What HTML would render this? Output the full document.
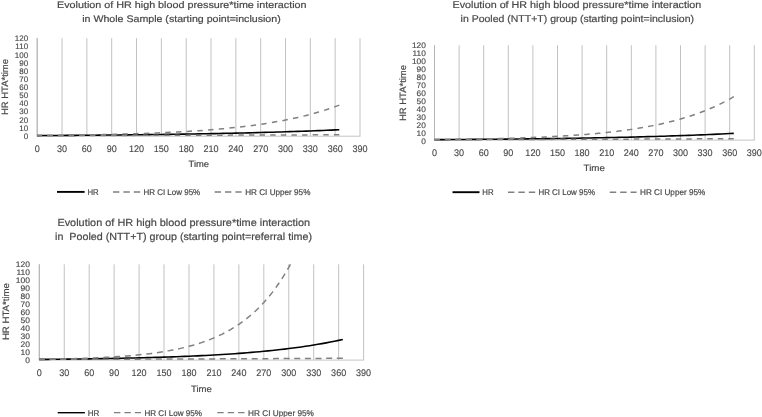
<!DOCTYPE html>
<html><head><meta charset="utf-8"><title>HR charts</title>
<style>
html,body{margin:0;padding:0;background:#fff;}
svg{display:block;font-family:'Liberation Sans', sans-serif;fill:#484848;text-rendering:geometricPrecision;}
text{stroke:#484848;stroke-width:0.2px;}
text.s{stroke-width:0.14px;}
</style></head>
<body>
<svg width="762" height="417" viewBox="0 0 762 417">
<rect width="762" height="417" fill="#fff"/>
<g opacity="0.999">
<line x1="37.20" y1="38.20" x2="37.20" y2="136.20" stroke="#c2c2c2" stroke-width="1"/>
<line x1="62.03" y1="38.20" x2="62.03" y2="136.20" stroke="#c2c2c2" stroke-width="1"/>
<line x1="86.86" y1="38.20" x2="86.86" y2="136.20" stroke="#c2c2c2" stroke-width="1"/>
<line x1="111.69" y1="38.20" x2="111.69" y2="136.20" stroke="#c2c2c2" stroke-width="1"/>
<line x1="136.52" y1="38.20" x2="136.52" y2="136.20" stroke="#c2c2c2" stroke-width="1"/>
<line x1="161.35" y1="38.20" x2="161.35" y2="136.20" stroke="#c2c2c2" stroke-width="1"/>
<line x1="186.18" y1="38.20" x2="186.18" y2="136.20" stroke="#c2c2c2" stroke-width="1"/>
<line x1="211.02" y1="38.20" x2="211.02" y2="136.20" stroke="#c2c2c2" stroke-width="1"/>
<line x1="235.85" y1="38.20" x2="235.85" y2="136.20" stroke="#c2c2c2" stroke-width="1"/>
<line x1="260.68" y1="38.20" x2="260.68" y2="136.20" stroke="#c2c2c2" stroke-width="1"/>
<line x1="285.51" y1="38.20" x2="285.51" y2="136.20" stroke="#c2c2c2" stroke-width="1"/>
<line x1="310.34" y1="38.20" x2="310.34" y2="136.20" stroke="#c2c2c2" stroke-width="1"/>
<line x1="335.17" y1="38.20" x2="335.17" y2="136.20" stroke="#c2c2c2" stroke-width="1"/>
<line x1="360.00" y1="38.20" x2="360.00" y2="136.20" stroke="#c2c2c2" stroke-width="1"/>
<line x1="37.20" y1="38.20" x2="37.20" y2="136.20" stroke="#b4b4b4" stroke-width="1"/>
<line x1="36.70" y1="136.20" x2="360.50" y2="136.20" stroke="#c4c4c4" stroke-width="1"/>
<text transform="translate(28.1,139) scale(1.0,1)" font-size="8" text-anchor="end" class="s">0</text>
<text transform="translate(28.1,131) scale(1.0,1)" font-size="8" text-anchor="end" class="s">10</text>
<text transform="translate(28.1,123) scale(1.0,1)" font-size="8" text-anchor="end" class="s">20</text>
<text transform="translate(28.1,114) scale(1.0,1)" font-size="8" text-anchor="end" class="s">30</text>
<text transform="translate(28.1,106) scale(1.0,1)" font-size="8" text-anchor="end" class="s">40</text>
<text transform="translate(28.1,98) scale(1.0,1)" font-size="8" text-anchor="end" class="s">50</text>
<text transform="translate(28.1,90) scale(1.0,1)" font-size="8" text-anchor="end" class="s">60</text>
<text transform="translate(28.1,82) scale(1.0,1)" font-size="8" text-anchor="end" class="s">70</text>
<text transform="translate(28.1,74) scale(1.0,1)" font-size="8" text-anchor="end" class="s">80</text>
<text transform="translate(28.1,66) scale(1.0,1)" font-size="8" text-anchor="end" class="s">90</text>
<text transform="translate(28.1,58) scale(1.0,1)" font-size="8" text-anchor="end" class="s">100</text>
<text transform="translate(28.1,49) scale(1.0,1)" font-size="8" text-anchor="end" class="s">110</text>
<text transform="translate(28.1,41) scale(1.0,1)" font-size="8" text-anchor="end" class="s">120</text>
<text transform="translate(37.20,152) scale(0.95,1)" font-size="9.5" text-anchor="middle" class="s">0</text>
<text transform="translate(62.03,152) scale(0.95,1)" font-size="9.5" text-anchor="middle" class="s">30</text>
<text transform="translate(86.86,152) scale(0.95,1)" font-size="9.5" text-anchor="middle" class="s">60</text>
<text transform="translate(111.69,152) scale(0.95,1)" font-size="9.5" text-anchor="middle" class="s">90</text>
<text transform="translate(136.52,152) scale(0.95,1)" font-size="9.5" text-anchor="middle" class="s">120</text>
<text transform="translate(161.35,152) scale(0.95,1)" font-size="9.5" text-anchor="middle" class="s">150</text>
<text transform="translate(186.18,152) scale(0.95,1)" font-size="9.5" text-anchor="middle" class="s">180</text>
<text transform="translate(211.02,152) scale(0.95,1)" font-size="9.5" text-anchor="middle" class="s">210</text>
<text transform="translate(235.85,152) scale(0.95,1)" font-size="9.5" text-anchor="middle" class="s">240</text>
<text transform="translate(260.68,152) scale(0.95,1)" font-size="9.5" text-anchor="middle" class="s">270</text>
<text transform="translate(285.51,152) scale(0.95,1)" font-size="9.5" text-anchor="middle" class="s">300</text>
<text transform="translate(310.34,152) scale(0.95,1)" font-size="9.5" text-anchor="middle" class="s">330</text>
<text transform="translate(335.17,152) scale(0.95,1)" font-size="9.5" text-anchor="middle" class="s">360</text>
<text transform="translate(360.00,152) scale(0.95,1)" font-size="9.5" text-anchor="middle" class="s">390</text>
<path d="M37.20,135.58 L41.34,135.56 L45.48,135.53 L49.62,135.51 L53.75,135.48 L57.89,135.46 L62.03,135.43 L66.17,135.40 L70.31,135.37 L74.45,135.34 L78.58,135.31 L82.72,135.28 L86.86,135.25 L91.00,135.21 L95.14,135.18 L99.28,135.14 L103.42,135.10 L107.55,135.07 L111.69,135.03 L115.83,134.99 L119.97,134.95 L124.11,134.90 L128.25,134.86 L132.38,134.82 L136.52,134.77 L140.66,134.72 L144.80,134.67 L148.94,134.62 L153.08,134.57 L157.22,134.52 L161.35,134.46 L165.49,134.40 L169.63,134.35 L173.77,134.29 L177.91,134.22 L182.05,134.16 L186.18,134.09 L190.32,134.03 L194.46,133.96 L198.60,133.89 L202.74,133.81 L206.88,133.74 L211.02,133.66 L215.15,133.58 L219.29,133.50 L223.43,133.41 L227.57,133.32 L231.71,133.23 L235.85,133.14 L239.98,133.05 L244.12,132.95 L248.26,132.85 L252.40,132.74 L256.54,132.64 L260.68,132.53 L264.82,132.41 L268.95,132.30 L273.09,132.18 L277.23,132.05 L281.37,131.93 L285.51,131.80 L289.65,131.66 L293.78,131.52 L297.92,131.38 L302.06,131.23 L306.20,131.08 L310.34,130.93 L314.48,130.77 L318.62,130.60 L322.75,130.43 L326.89,130.26 L331.03,130.08 L335.17,129.89 L339.31,129.70" fill="none" stroke="#000" stroke-width="1.6" stroke-linejoin="round"/>
<path d="M37.20,135.58 L41.34,135.58 L45.48,135.57 L49.62,135.56 L53.75,135.55 L57.89,135.54 L62.03,135.54 L66.17,135.53 L70.31,135.52 L74.45,135.51 L78.58,135.50 L82.72,135.49 L86.86,135.48 L91.00,135.48 L95.14,135.47 L99.28,135.46 L103.42,135.45 L107.55,135.44 L111.69,135.43 L115.83,135.42 L119.97,135.41 L124.11,135.40 L128.25,135.39 L132.38,135.38 L136.52,135.37 L140.66,135.36 L144.80,135.35 L148.94,135.34 L153.08,135.33 L157.22,135.32 L161.35,135.31 L165.49,135.30 L169.63,135.29 L173.77,135.28 L177.91,135.27 L182.05,135.26 L186.18,135.25 L190.32,135.24 L194.46,135.23 L198.60,135.22 L202.74,135.21 L206.88,135.19 L211.02,135.18 L215.15,135.17 L219.29,135.16 L223.43,135.15 L227.57,135.14 L231.71,135.12 L235.85,135.11 L239.98,135.10 L244.12,135.09 L248.26,135.07 L252.40,135.06 L256.54,135.05 L260.68,135.04 L264.82,135.02 L268.95,135.01 L273.09,135.00 L277.23,134.98 L281.37,134.97 L285.51,134.96 L289.65,134.94 L293.78,134.93 L297.92,134.91 L302.06,134.90 L306.20,134.89 L310.34,134.87 L314.48,134.86 L318.62,134.84 L322.75,134.83 L326.89,134.81 L331.03,134.80 L335.17,134.78 L339.31,134.77" fill="none" stroke="#808080" stroke-width="1.5" stroke-dasharray="5.40 5.215" stroke-dashoffset="0.5" stroke-linejoin="round"/>
<path d="M37.20,135.58 L41.34,135.54 L45.48,135.50 L49.62,135.45 L53.75,135.40 L57.89,135.35 L62.03,135.30 L66.17,135.24 L70.31,135.18 L74.45,135.12 L78.58,135.05 L82.72,134.99 L86.86,134.91 L91.00,134.84 L95.14,134.76 L99.28,134.67 L103.42,134.58 L107.55,134.49 L111.69,134.39 L115.83,134.29 L119.97,134.18 L124.11,134.07 L128.25,133.95 L132.38,133.82 L136.52,133.69 L140.66,133.55 L144.80,133.41 L148.94,133.26 L153.08,133.09 L157.22,132.92 L161.35,132.75 L165.49,132.56 L169.63,132.36 L173.77,132.16 L177.91,131.94 L182.05,131.71 L186.18,131.47 L190.32,131.22 L194.46,130.95 L198.60,130.67 L202.74,130.38 L206.88,130.07 L211.02,129.75 L215.15,129.41 L219.29,129.05 L223.43,128.67 L227.57,128.28 L231.71,127.86 L235.85,127.42 L239.98,126.97 L244.12,126.48 L248.26,125.97 L252.40,125.44 L256.54,124.88 L260.68,124.29 L264.82,123.67 L268.95,123.02 L273.09,122.33 L277.23,121.61 L281.37,120.85 L285.51,120.06 L289.65,119.22 L293.78,118.34 L297.92,117.42 L302.06,116.44 L306.20,115.42 L310.34,114.35 L314.48,113.22 L318.62,112.03 L322.75,110.79 L326.89,109.47 L331.03,108.09 L335.17,106.65 L339.31,105.12" fill="none" stroke="#808080" stroke-width="1.5" stroke-dasharray="5.40 5.318" stroke-dashoffset="0.5" stroke-linejoin="round"/>
<text x="57.00" y="8.00" font-size="9.5" text-anchor="start" textLength="249.50" lengthAdjust="spacingAndGlyphs" xml:space="preserve">Evolution of HR high blood pressure*time interaction</text>
<text x="82.20" y="22.00" font-size="9.5" text-anchor="start" textLength="198.50" lengthAdjust="spacingAndGlyphs" xml:space="preserve">in Whole Sample (starting point=inclusion)</text>
<text x="188.60" y="167" font-size="9" text-anchor="start" textLength="20.50" lengthAdjust="spacingAndGlyphs">Time</text>
<text transform="translate(8.30,87.00) rotate(-90)" font-size="9.2" text-anchor="middle" textLength="56" lengthAdjust="spacingAndGlyphs">HR HTA*time</text>
<line x1="57" y1="191.9" x2="84.6" y2="191.9" stroke="#000" stroke-width="1.9"/>
<text x="87.4" y="195" font-size="8.4" text-anchor="start" textLength="11.20" lengthAdjust="spacingAndGlyphs">HR</text>
<line x1="113" y1="191.9" x2="140.4" y2="191.9" stroke="#808080" stroke-width="1.55" stroke-dasharray="6.4 4"/>
<text x="143.4" y="195" font-size="8.4" text-anchor="start" textLength="56.80" lengthAdjust="spacingAndGlyphs">HR CI Low 95%</text>
<line x1="214.6" y1="191.9" x2="241.6" y2="191.9" stroke="#808080" stroke-width="1.55" stroke-dasharray="6.4 4"/>
<text x="245.2" y="195" font-size="8.4" text-anchor="start" textLength="65.20" lengthAdjust="spacingAndGlyphs">HR CI Upper 95%</text>
<line x1="434.50" y1="45.20" x2="434.50" y2="140.10" stroke="#c2c2c2" stroke-width="1"/>
<line x1="459.10" y1="45.20" x2="459.10" y2="140.10" stroke="#c2c2c2" stroke-width="1"/>
<line x1="483.70" y1="45.20" x2="483.70" y2="140.10" stroke="#c2c2c2" stroke-width="1"/>
<line x1="508.30" y1="45.20" x2="508.30" y2="140.10" stroke="#c2c2c2" stroke-width="1"/>
<line x1="532.90" y1="45.20" x2="532.90" y2="140.10" stroke="#c2c2c2" stroke-width="1"/>
<line x1="557.50" y1="45.20" x2="557.50" y2="140.10" stroke="#c2c2c2" stroke-width="1"/>
<line x1="582.10" y1="45.20" x2="582.10" y2="140.10" stroke="#c2c2c2" stroke-width="1"/>
<line x1="606.70" y1="45.20" x2="606.70" y2="140.10" stroke="#c2c2c2" stroke-width="1"/>
<line x1="631.30" y1="45.20" x2="631.30" y2="140.10" stroke="#c2c2c2" stroke-width="1"/>
<line x1="655.90" y1="45.20" x2="655.90" y2="140.10" stroke="#c2c2c2" stroke-width="1"/>
<line x1="680.50" y1="45.20" x2="680.50" y2="140.10" stroke="#c2c2c2" stroke-width="1"/>
<line x1="705.10" y1="45.20" x2="705.10" y2="140.10" stroke="#c2c2c2" stroke-width="1"/>
<line x1="729.70" y1="45.20" x2="729.70" y2="140.10" stroke="#c2c2c2" stroke-width="1"/>
<line x1="754.30" y1="45.20" x2="754.30" y2="140.10" stroke="#c2c2c2" stroke-width="1"/>
<line x1="434.50" y1="45.20" x2="434.50" y2="140.10" stroke="#b4b4b4" stroke-width="1"/>
<line x1="434.00" y1="140.10" x2="754.80" y2="140.10" stroke="#c4c4c4" stroke-width="1"/>
<text transform="translate(425.8,144) scale(1.04,1)" font-size="8" text-anchor="end" class="s">0</text>
<text transform="translate(425.8,136) scale(1.04,1)" font-size="8" text-anchor="end" class="s">10</text>
<text transform="translate(425.8,128) scale(1.04,1)" font-size="8" text-anchor="end" class="s">20</text>
<text transform="translate(425.8,120) scale(1.04,1)" font-size="8" text-anchor="end" class="s">30</text>
<text transform="translate(425.8,112) scale(1.04,1)" font-size="8" text-anchor="end" class="s">40</text>
<text transform="translate(425.8,104) scale(1.04,1)" font-size="8" text-anchor="end" class="s">50</text>
<text transform="translate(425.8,96) scale(1.04,1)" font-size="8" text-anchor="end" class="s">60</text>
<text transform="translate(425.8,88) scale(1.04,1)" font-size="8" text-anchor="end" class="s">70</text>
<text transform="translate(425.8,80) scale(1.04,1)" font-size="8" text-anchor="end" class="s">80</text>
<text transform="translate(425.8,72) scale(1.04,1)" font-size="8" text-anchor="end" class="s">90</text>
<text transform="translate(425.8,64) scale(1.04,1)" font-size="8" text-anchor="end" class="s">100</text>
<text transform="translate(425.8,56) scale(1.04,1)" font-size="8" text-anchor="end" class="s">110</text>
<text transform="translate(425.8,48) scale(1.04,1)" font-size="8" text-anchor="end" class="s">120</text>
<text transform="translate(434.50,156) scale(0.95,1)" font-size="9.5" text-anchor="middle" class="s">0</text>
<text transform="translate(459.10,156) scale(0.95,1)" font-size="9.5" text-anchor="middle" class="s">30</text>
<text transform="translate(483.70,156) scale(0.95,1)" font-size="9.5" text-anchor="middle" class="s">60</text>
<text transform="translate(508.30,156) scale(0.95,1)" font-size="9.5" text-anchor="middle" class="s">90</text>
<text transform="translate(532.90,156) scale(0.95,1)" font-size="9.5" text-anchor="middle" class="s">120</text>
<text transform="translate(557.50,156) scale(0.95,1)" font-size="9.5" text-anchor="middle" class="s">150</text>
<text transform="translate(582.10,156) scale(0.95,1)" font-size="9.5" text-anchor="middle" class="s">180</text>
<text transform="translate(606.70,156) scale(0.95,1)" font-size="9.5" text-anchor="middle" class="s">210</text>
<text transform="translate(631.30,156) scale(0.95,1)" font-size="9.5" text-anchor="middle" class="s">240</text>
<text transform="translate(655.90,156) scale(0.95,1)" font-size="9.5" text-anchor="middle" class="s">270</text>
<text transform="translate(680.50,156) scale(0.95,1)" font-size="9.5" text-anchor="middle" class="s">300</text>
<text transform="translate(705.10,156) scale(0.95,1)" font-size="9.5" text-anchor="middle" class="s">330</text>
<text transform="translate(729.70,156) scale(0.95,1)" font-size="9.5" text-anchor="middle" class="s">360</text>
<text transform="translate(754.30,156) scale(0.95,1)" font-size="9.5" text-anchor="middle" class="s">390</text>
<path d="M434.50,139.66 L438.60,139.64 L442.70,139.61 L446.80,139.58 L450.90,139.56 L455.00,139.53 L459.10,139.50 L463.20,139.47 L467.30,139.44 L471.40,139.41 L475.50,139.38 L479.60,139.35 L483.70,139.32 L487.80,139.28 L491.90,139.24 L496.00,139.21 L500.10,139.17 L504.20,139.13 L508.30,139.09 L512.40,139.05 L516.50,139.01 L520.60,138.96 L524.70,138.92 L528.80,138.87 L532.90,138.82 L537.00,138.77 L541.10,138.72 L545.20,138.67 L549.30,138.61 L553.40,138.56 L557.50,138.50 L561.60,138.44 L565.70,138.38 L569.80,138.31 L573.90,138.25 L578.00,138.18 L582.10,138.11 L586.20,138.04 L590.30,137.97 L594.40,137.89 L598.50,137.81 L602.60,137.73 L606.70,137.65 L610.80,137.56 L614.90,137.48 L619.00,137.39 L623.10,137.29 L627.20,137.20 L631.30,137.10 L635.40,136.99 L639.50,136.89 L643.60,136.78 L647.70,136.67 L651.80,136.55 L655.90,136.43 L660.00,136.31 L664.10,136.18 L668.20,136.05 L672.30,135.92 L676.40,135.78 L680.50,135.64 L684.60,135.49 L688.70,135.34 L692.80,135.18 L696.90,135.02 L701.00,134.86 L705.10,134.68 L709.20,134.51 L713.30,134.33 L717.40,134.14 L721.50,133.95 L725.60,133.75 L729.70,133.54 L733.80,133.33" fill="none" stroke="#000" stroke-width="1.6" stroke-linejoin="round"/>
<path d="M434.50,139.66 L438.60,139.65 L442.70,139.64 L446.80,139.63 L450.90,139.62 L455.00,139.62 L459.10,139.61 L463.20,139.60 L467.30,139.59 L471.40,139.58 L475.50,139.57 L479.60,139.56 L483.70,139.55 L487.80,139.54 L491.90,139.53 L496.00,139.52 L500.10,139.51 L504.20,139.50 L508.30,139.49 L512.40,139.48 L516.50,139.47 L520.60,139.46 L524.70,139.45 L528.80,139.44 L532.90,139.43 L537.00,139.41 L541.10,139.40 L545.20,139.39 L549.30,139.38 L553.40,139.37 L557.50,139.36 L561.60,139.34 L565.70,139.33 L569.80,139.32 L573.90,139.31 L578.00,139.30 L582.10,139.28 L586.20,139.27 L590.30,139.26 L594.40,139.24 L598.50,139.23 L602.60,139.22 L606.70,139.21 L610.80,139.19 L614.90,139.18 L619.00,139.16 L623.10,139.15 L627.20,139.14 L631.30,139.12 L635.40,139.11 L639.50,139.09 L643.60,139.08 L647.70,139.06 L651.80,139.05 L655.90,139.03 L660.00,139.02 L664.10,139.00 L668.20,138.99 L672.30,138.97 L676.40,138.95 L680.50,138.94 L684.60,138.92 L688.70,138.91 L692.80,138.89 L696.90,138.87 L701.00,138.85 L705.10,138.84 L709.20,138.82 L713.30,138.80 L717.40,138.78 L721.50,138.77 L725.60,138.75 L729.70,138.73 L733.80,138.71" fill="none" stroke="#808080" stroke-width="1.5" stroke-dasharray="5.50 5.000" stroke-dashoffset="0.2" stroke-linejoin="round"/>
<path d="M434.50,139.66 L438.60,139.61 L442.70,139.57 L446.80,139.52 L450.90,139.46 L455.00,139.41 L459.10,139.35 L463.20,139.29 L467.30,139.22 L471.40,139.15 L475.50,139.08 L479.60,139.00 L483.70,138.92 L487.80,138.83 L491.90,138.74 L496.00,138.65 L500.10,138.54 L504.20,138.44 L508.30,138.32 L512.40,138.20 L516.50,138.08 L520.60,137.94 L524.70,137.80 L528.80,137.65 L532.90,137.49 L537.00,137.32 L541.10,137.15 L545.20,136.96 L549.30,136.76 L553.40,136.56 L557.50,136.34 L561.60,136.10 L565.70,135.86 L569.80,135.60 L573.90,135.32 L578.00,135.03 L582.10,134.73 L586.20,134.41 L590.30,134.06 L594.40,133.70 L598.50,133.32 L602.60,132.92 L606.70,132.49 L610.80,132.04 L614.90,131.57 L619.00,131.07 L623.10,130.54 L627.20,129.98 L631.30,129.38 L635.40,128.76 L639.50,128.10 L643.60,127.40 L647.70,126.66 L651.80,125.88 L655.90,125.06 L660.00,124.19 L664.10,123.27 L668.20,122.30 L672.30,121.28 L676.40,120.19 L680.50,119.05 L684.60,117.84 L688.70,116.56 L692.80,115.21 L696.90,113.78 L701.00,112.28 L705.10,110.69 L709.20,109.00 L713.30,107.23 L717.40,105.35 L721.50,103.37 L725.60,101.27 L729.70,99.06 L733.80,96.72" fill="none" stroke="#808080" stroke-width="1.5" stroke-dasharray="5.50 5.220" stroke-dashoffset="0.2" stroke-linejoin="round"/>
<text x="452.50" y="8.00" font-size="9.8" text-anchor="start" textLength="248.80" lengthAdjust="spacingAndGlyphs" xml:space="preserve">Evolution of HR high blood pressure*time interaction</text>
<text x="460.60" y="22.00" font-size="9.8" text-anchor="start" textLength="233.40" lengthAdjust="spacingAndGlyphs" xml:space="preserve">in Pooled (NTT+T) group (starting point=inclusion)</text>
<text x="583.60" y="171" font-size="9" text-anchor="start" textLength="21.30" lengthAdjust="spacingAndGlyphs">Time</text>
<text transform="translate(405.60,93.00) rotate(-90)" font-size="9.2" text-anchor="middle" textLength="56" lengthAdjust="spacingAndGlyphs">HR HTA*time</text>
<line x1="452.5" y1="192.2" x2="479.5" y2="192.2" stroke="#000" stroke-width="1.9"/>
<text x="482.3" y="195" font-size="8.4" text-anchor="start" textLength="11.30" lengthAdjust="spacingAndGlyphs">HR</text>
<line x1="508" y1="192.2" x2="535.2" y2="192.2" stroke="#808080" stroke-width="1.55" stroke-dasharray="6.4 4"/>
<text x="538.4" y="195" font-size="8.4" text-anchor="start" textLength="56.60" lengthAdjust="spacingAndGlyphs">HR CI Low 95%</text>
<line x1="609.8" y1="192.2" x2="636.6" y2="192.2" stroke="#808080" stroke-width="1.55" stroke-dasharray="6.4 4"/>
<text x="640.0" y="195" font-size="8.4" text-anchor="start" textLength="65.30" lengthAdjust="spacingAndGlyphs">HR CI Upper 95%</text>
<line x1="39.30" y1="264.30" x2="39.30" y2="360.10" stroke="#c2c2c2" stroke-width="1"/>
<line x1="64.25" y1="264.30" x2="64.25" y2="360.10" stroke="#c2c2c2" stroke-width="1"/>
<line x1="89.19" y1="264.30" x2="89.19" y2="360.10" stroke="#c2c2c2" stroke-width="1"/>
<line x1="114.14" y1="264.30" x2="114.14" y2="360.10" stroke="#c2c2c2" stroke-width="1"/>
<line x1="139.08" y1="264.30" x2="139.08" y2="360.10" stroke="#c2c2c2" stroke-width="1"/>
<line x1="164.03" y1="264.30" x2="164.03" y2="360.10" stroke="#c2c2c2" stroke-width="1"/>
<line x1="188.98" y1="264.30" x2="188.98" y2="360.10" stroke="#c2c2c2" stroke-width="1"/>
<line x1="213.92" y1="264.30" x2="213.92" y2="360.10" stroke="#c2c2c2" stroke-width="1"/>
<line x1="238.87" y1="264.30" x2="238.87" y2="360.10" stroke="#c2c2c2" stroke-width="1"/>
<line x1="263.82" y1="264.30" x2="263.82" y2="360.10" stroke="#c2c2c2" stroke-width="1"/>
<line x1="288.76" y1="264.30" x2="288.76" y2="360.10" stroke="#c2c2c2" stroke-width="1"/>
<line x1="313.71" y1="264.30" x2="313.71" y2="360.10" stroke="#c2c2c2" stroke-width="1"/>
<line x1="338.65" y1="264.30" x2="338.65" y2="360.10" stroke="#c2c2c2" stroke-width="1"/>
<line x1="363.60" y1="264.30" x2="363.60" y2="360.10" stroke="#c2c2c2" stroke-width="1"/>
<line x1="39.30" y1="264.30" x2="39.30" y2="360.10" stroke="#b4b4b4" stroke-width="1"/>
<line x1="38.80" y1="360.10" x2="364.10" y2="360.10" stroke="#c4c4c4" stroke-width="1"/>
<text transform="translate(30.0,363) scale(1.06,1)" font-size="8" text-anchor="end" class="s">0</text>
<text transform="translate(30.0,355) scale(1.06,1)" font-size="8" text-anchor="end" class="s">10</text>
<text transform="translate(30.0,347) scale(1.06,1)" font-size="8" text-anchor="end" class="s">20</text>
<text transform="translate(30.0,339) scale(1.06,1)" font-size="8" text-anchor="end" class="s">30</text>
<text transform="translate(30.0,331) scale(1.06,1)" font-size="8" text-anchor="end" class="s">40</text>
<text transform="translate(30.0,323) scale(1.06,1)" font-size="8" text-anchor="end" class="s">50</text>
<text transform="translate(30.0,315) scale(1.06,1)" font-size="8" text-anchor="end" class="s">60</text>
<text transform="translate(30.0,307) scale(1.06,1)" font-size="8" text-anchor="end" class="s">70</text>
<text transform="translate(30.0,299) scale(1.06,1)" font-size="8" text-anchor="end" class="s">80</text>
<text transform="translate(30.0,291) scale(1.06,1)" font-size="8" text-anchor="end" class="s">90</text>
<text transform="translate(30.0,283) scale(1.06,1)" font-size="8" text-anchor="end" class="s">100</text>
<text transform="translate(30.0,275) scale(1.06,1)" font-size="8" text-anchor="end" class="s">110</text>
<text transform="translate(30.0,267) scale(1.06,1)" font-size="8" text-anchor="end" class="s">120</text>
<text transform="translate(39.30,376) scale(0.95,1)" font-size="9.5" text-anchor="middle" class="s">0</text>
<text transform="translate(64.25,376) scale(0.95,1)" font-size="9.5" text-anchor="middle" class="s">30</text>
<text transform="translate(89.19,376) scale(0.95,1)" font-size="9.5" text-anchor="middle" class="s">60</text>
<text transform="translate(114.14,376) scale(0.95,1)" font-size="9.5" text-anchor="middle" class="s">90</text>
<text transform="translate(139.08,376) scale(0.95,1)" font-size="9.5" text-anchor="middle" class="s">120</text>
<text transform="translate(164.03,376) scale(0.95,1)" font-size="9.5" text-anchor="middle" class="s">150</text>
<text transform="translate(188.98,376) scale(0.95,1)" font-size="9.5" text-anchor="middle" class="s">180</text>
<text transform="translate(213.92,376) scale(0.95,1)" font-size="9.5" text-anchor="middle" class="s">210</text>
<text transform="translate(238.87,376) scale(0.95,1)" font-size="9.5" text-anchor="middle" class="s">240</text>
<text transform="translate(263.82,376) scale(0.95,1)" font-size="9.5" text-anchor="middle" class="s">270</text>
<text transform="translate(288.76,376) scale(0.95,1)" font-size="9.5" text-anchor="middle" class="s">300</text>
<text transform="translate(313.71,376) scale(0.95,1)" font-size="9.5" text-anchor="middle" class="s">330</text>
<text transform="translate(338.65,376) scale(0.95,1)" font-size="9.5" text-anchor="middle" class="s">360</text>
<text transform="translate(363.60,376) scale(0.95,1)" font-size="9.5" text-anchor="middle" class="s">390</text>
<path d="M39.30,359.40 L43.46,359.37 L47.62,359.33 L51.77,359.29 L55.93,359.25 L60.09,359.20 L64.25,359.16 L68.40,359.11 L72.56,359.06 L76.72,359.01 L80.88,358.95 L85.03,358.90 L89.19,358.84 L93.35,358.77 L97.51,358.71 L101.67,358.64 L105.82,358.57 L109.98,358.50 L114.14,358.42 L118.30,358.34 L122.45,358.25 L126.61,358.16 L130.77,358.07 L134.93,357.97 L139.08,357.87 L143.24,357.76 L147.40,357.65 L151.56,357.54 L155.72,357.41 L159.87,357.29 L164.03,357.15 L168.19,357.02 L172.35,356.87 L176.50,356.72 L180.66,356.56 L184.82,356.39 L188.98,356.22 L193.13,356.04 L197.29,355.85 L201.45,355.65 L205.61,355.44 L209.77,355.22 L213.92,355.00 L218.08,354.76 L222.24,354.51 L226.40,354.25 L230.55,353.98 L234.71,353.70 L238.87,353.40 L243.03,353.09 L247.18,352.76 L251.34,352.42 L255.50,352.07 L259.66,351.70 L263.82,351.31 L267.97,350.90 L272.13,350.48 L276.29,350.04 L280.45,349.57 L284.60,349.09 L288.76,348.58 L292.92,348.05 L297.08,347.50 L301.23,346.92 L305.39,346.31 L309.55,345.68 L313.71,345.01 L317.87,344.32 L322.02,343.59 L326.18,342.84 L330.34,342.04 L334.50,341.22 L338.65,340.35 L342.81,339.44" fill="none" stroke="#000" stroke-width="1.6" stroke-linejoin="round"/>
<path d="M39.30,359.40 L43.46,359.39 L47.62,359.38 L51.77,359.37 L55.93,359.36 L60.09,359.35 L64.25,359.34 L68.40,359.33 L72.56,359.32 L76.72,359.31 L80.88,359.30 L85.03,359.29 L89.19,359.28 L93.35,359.27 L97.51,359.26 L101.67,359.24 L105.82,359.23 L109.98,359.22 L114.14,359.21 L118.30,359.20 L122.45,359.19 L126.61,359.17 L130.77,359.16 L134.93,359.15 L139.08,359.14 L143.24,359.12 L147.40,359.11 L151.56,359.10 L155.72,359.08 L159.87,359.07 L164.03,359.06 L168.19,359.04 L172.35,359.03 L176.50,359.01 L180.66,359.00 L184.82,358.99 L188.98,358.97 L193.13,358.96 L197.29,358.94 L201.45,358.93 L205.61,358.91 L209.77,358.89 L213.92,358.88 L218.08,358.86 L222.24,358.85 L226.40,358.83 L230.55,358.81 L234.71,358.80 L238.87,358.78 L243.03,358.76 L247.18,358.75 L251.34,358.73 L255.50,358.71 L259.66,358.69 L263.82,358.67 L267.97,358.66 L272.13,358.64 L276.29,358.62 L280.45,358.60 L284.60,358.58 L288.76,358.56 L292.92,358.54 L297.08,358.52 L301.23,358.50 L305.39,358.48 L309.55,358.46 L313.71,358.44 L317.87,358.42 L322.02,358.40 L326.18,358.37 L330.34,358.35 L334.50,358.33 L338.65,358.31 L342.81,358.28" fill="none" stroke="#808080" stroke-width="1.5" stroke-dasharray="6.00 4.640" stroke-dashoffset="0.4" stroke-linejoin="round"/>
<path d="M39.30,359.40 L43.46,359.34 L47.62,359.26 L51.77,359.19 L55.93,359.10 L60.09,359.01 L64.25,358.92 L68.40,358.81 L72.56,358.69 L76.72,358.57 L80.88,358.44 L85.03,358.29 L89.19,358.13 L93.35,357.96 L97.51,357.78 L101.67,357.58 L105.82,357.36 L109.98,357.13 L114.14,356.87 L118.30,356.60 L122.45,356.30 L126.61,355.98 L130.77,355.63 L134.93,355.26 L139.08,354.85 L143.24,354.41 L147.40,353.93 L151.56,353.41 L155.72,352.85 L159.87,352.25 L164.03,351.59 L168.19,350.88 L172.35,350.11 L176.50,349.28 L180.66,348.38 L184.82,347.41 L188.98,346.35 L193.13,345.21 L197.29,343.97 L201.45,342.63 L205.61,341.18 L209.77,339.62 L213.92,337.92 L218.08,336.08 L222.24,334.09 L226.40,331.94 L230.55,329.60 L234.71,327.08 L238.87,324.35 L243.03,321.39 L247.18,318.19 L251.34,314.72 L255.50,310.97 L259.66,306.91 L263.82,302.52 L267.97,297.76 L272.13,292.61 L276.29,287.03 L280.45,281.00 L284.60,274.46 L288.76,267.39 L290.42,264.40" fill="none" stroke="#808080" stroke-width="1.5" stroke-dasharray="6.00 4.754" stroke-dashoffset="0.4" stroke-linejoin="round"/>
<text x="57.40" y="226.00" font-size="10.3" text-anchor="start" textLength="252.70" lengthAdjust="spacingAndGlyphs" xml:space="preserve">Evolution of HR high blood pressure*time interaction</text>
<text x="55.00" y="240.00" font-size="10.3" text-anchor="start" textLength="257.00" lengthAdjust="spacingAndGlyphs" xml:space="preserve">in  Pooled (NTT+T) group (starting point=referral time)</text>
<text x="191.00" y="392" font-size="9" text-anchor="start" textLength="20.90" lengthAdjust="spacingAndGlyphs">Time</text>
<text transform="translate(9.20,311.60) rotate(-90)" font-size="9.2" text-anchor="middle" textLength="57" lengthAdjust="spacingAndGlyphs">HR HTA*time</text>
<line x1="57.7" y1="412.7" x2="84.9" y2="412.7" stroke="#000" stroke-width="1.4"/>
<text x="87.7" y="416" font-size="8.4" text-anchor="start" textLength="11.70" lengthAdjust="spacingAndGlyphs">HR</text>
<line x1="114" y1="412.7" x2="141" y2="412.7" stroke="#808080" stroke-width="1.2" stroke-dasharray="6.4 4"/>
<text x="144.4" y="416" font-size="8.4" text-anchor="start" textLength="57.60" lengthAdjust="spacingAndGlyphs">HR CI Low 95%</text>
<line x1="217.3" y1="412.7" x2="244.7" y2="412.7" stroke="#808080" stroke-width="1.2" stroke-dasharray="6.4 4"/>
<text x="248.1" y="416" font-size="8.4" text-anchor="start" textLength="65.80" lengthAdjust="spacingAndGlyphs">HR CI Upper 95%</text>
</g>
</svg>
</body></html>
